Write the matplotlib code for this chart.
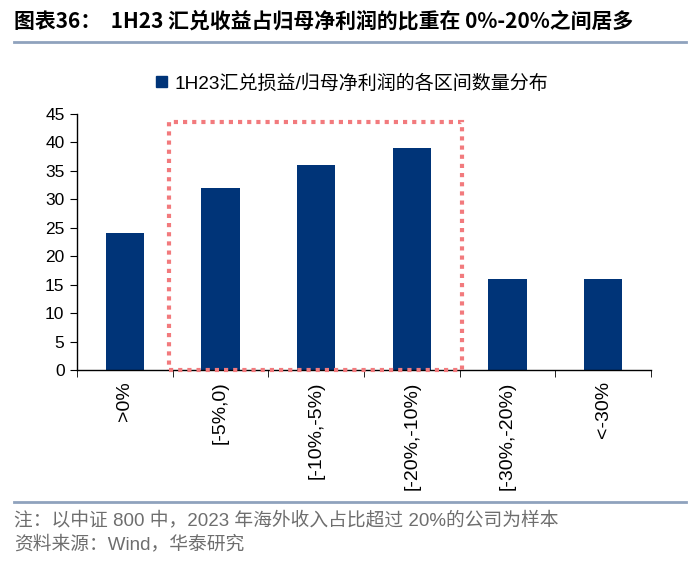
import matplotlib
matplotlib.use("Agg")
import matplotlib.pyplot as plt
from matplotlib.patches import Rectangle
from matplotlib.lines import Line2D
import numpy as np

categories = [">0%", "[-5%,0)", "[-10%,-5%)", "[-20%,-10%)", "[-30%,-20%)", "<-30%"]
counts = [24, 32, 36, 39, 16, 16]
series_name = "1H23汇兑损益/归母净利润的各区间数量分布"
title = "图表36：  1H23 汇兑收益占归母净利润的比重在 0%-20%之间居多"
note = "注：以中证 800 中，2023 年海外收入占比超过 20%的公司为样本"
source = "资料来源：Wind，华泰研究"

MIX = ["Liberation Sans", "Noto Sans CJK SC", "DejaVu Sans"]
CJK = ["Noto Sans CJK SC", "DejaVu Sans"]
BAR = "#003478"
plt.rcParams["font.family"] = MIX

fig = plt.figure(figsize=(7, 5.62), dpi=100)
ax = fig.add_axes([0.11, 0.3416, 0.82, 0.4555])

x = np.arange(len(categories))
ax.bar(x, counts, width=0.4, color=BAR, zorder=2)

ax.set_xlim(-0.5, len(categories) - 0.5)
ax.set_ylim(0, 45)
ax.set_yticks(np.arange(0, 46, 5))
ax.tick_params(axis="y", labelsize=12.5, length=5, direction="out", pad=4)
ax.set_xticks(x)
ax.set_xticklabels(categories, rotation=90, fontsize=14)
ax.tick_params(axis="x", length=0, pad=8)
ax.set_xticks(np.arange(-0.5, len(categories)), minor=True)
ax.tick_params(axis="x", which="minor", length=5, direction="out")
for s in ["top", "right"]:
    ax.spines[s].set_visible(False)
ax.spines["left"].set_linewidth(1)
ax.spines["bottom"].set_linewidth(1)

# highlight box
ax.add_patch(Rectangle((0.46, 0), 3.06, 43.6, fill=False, edgecolor="#f27a7d",
                       linestyle=(0, (1, 1.2)), linewidth=3, clip_on=False, zorder=3))

# legend
handle = Rectangle((0, 0), 1, 1, color=BAR)
fig.legend([handle], [series_name], loc="center", bbox_to_anchor=(0.503, 0.852),
           frameon=False, fontsize=13.7, handlelength=0.55, handleheight=0.55,
           handletextpad=0.4)

# title and lines
fig.text(0.02, 0.962, title, fontsize=15, fontweight="bold", family=CJK,
         va="center", ha="left")
fig.add_artist(Line2D([0.02, 0.98], [0.925, 0.925], color="#8fa2bd", linewidth=2))
fig.add_artist(Line2D([0.02, 0.98], [0.107, 0.107], color="#8fa2bd", linewidth=2))
fig.text(0.02, 0.075, note, fontsize=13.5, color="#6e6e6e", va="center", ha="left")
fig.text(0.02, 0.031, source, fontsize=13.5, color="#6e6e6e", va="center", ha="left")

fig.savefig("out.png", dpi=100)
